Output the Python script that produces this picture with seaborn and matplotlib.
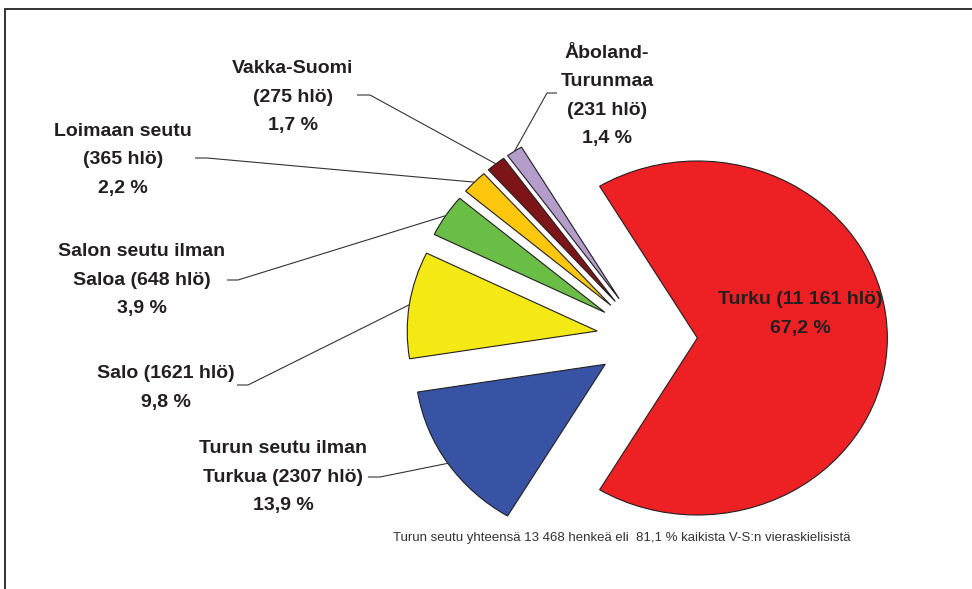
import numpy as np
import matplotlib
matplotlib.use("Agg")
import matplotlib.pyplot as plt
from matplotlib.lines import Line2D
import seaborn as sns

# ---- data ----
regions = ["Turku", "Åboland-Turunmaa", "Vakka-Suomi", "Loimaan seutu",
           "Salon seutu ilman Saloa", "Salo", "Turun seutu ilman Turkua"]
label_heads = ["Turku", "Åboland-\nTurunmaa\n", "Vakka-Suomi\n", "Loimaan seutu\n",
               "Salon seutu ilman\nSaloa ", "Salo ", "Turun seutu ilman\nTurkua "]
counts = [11161, 231, 275, 365, 648, 1621, 2307]
colors = ["#ED2024", "#B59DCB", "#7D1518", "#FDC70E", "#6ABD45", "#F4E815", "#3853A4"]
footnote = "Turun seutu yhteensä 13 468 henkeä eli  81,1 % kaikista V-S:n vieraskielisistä"

sns.set_theme(style="white")
plt.rcParams["font.family"] = ["Liberation Sans", "DejaVu Sans"]

W, H = 972, 589
fig = plt.figure(figsize=(W / 100, H / 100), dpi=100)
fig.patch.set_facecolor("white")
ax = fig.add_axes([0, 0, 1, 1])

# layout (pixels)
CX, CY, RX, RY = 647, 338, 190, 177
EXPL = 0.265

def px(x, y):
    return (x - CX) / RX, (CY - y) / RY

total = sum(counts)
shares = [c / total for c in counts]
start = -shares[0] * 360 / 2

wedges, _ = ax.pie(counts, colors=colors, startangle=start, counterclock=True,
                   explode=[EXPL] * len(counts), radius=1, center=(0, 0),
                   wedgeprops=dict(edgecolor="#231f20", linewidth=0.8))
ax.set_aspect("auto")
ax.set_xlim(-CX / RX, (W - CX) / RX)
ax.set_ylim(-(H - CY) / RY, CY / RY)
ax.axis("off")

def fmt_count(c):
    return f"{c:,}".replace(",", " ") if c >= 10000 else str(c)

labels = []
for head, c, s in zip(label_heads, counts, shares):
    pct = f"{s * 100:.1f}".replace(".", ",")
    if head == "Turku":
        labels.append(f"Turku ({fmt_count(c)} hlö)\n{pct} %")
    else:
        labels.append(f"{head}({fmt_count(c)} hlö)\n{pct} %")

# text center, leader start, leader elbow (pixels)
layout = [
    ((800, 314), None, None),
    ((607, 96), (557, 93), (547, 93)),
    ((293, 97), (357, 95), (370, 95)),
    ((123, 160), (195, 158), (207, 158)),
    ((142, 280), (227, 280), (238, 280)),
    ((166, 388), (237, 385), (248, 385)),
    ((283, 477), (368, 477), (380, 477)),
]

TXT = "#231f20"
for w, lab, (tc, ls, le) in zip(wedges, labels, layout):
    x, y = px(*tc)
    ax.text(x, y, lab, ha="center", va="center", fontsize=14, fontweight="bold",
            color=TXT, linespacing=1.85)
    if ls is not None:
        th = np.deg2rad((w.theta1 + w.theta2) / 2)
        cx, cy = w.center
        ax_, ay_ = cx + w.r * np.cos(th), cy + w.r * np.sin(th)
        p1, p2 = px(*ls), px(*le)
        ax.plot([p1[0], p2[0], ax_], [p1[1], p2[1], ay_], color="#333333", lw=0.8,
                solid_capstyle="butt")

fx, fy = px(393, 538)
ax.text(fx, fy, footnote, ha="left", va="center", fontsize=9.5, color="#333333")

# frame
fig.add_artist(Line2D([5 / W, 1.01], [1 - 9 / H, 1 - 9 / H], transform=fig.transFigure,
                      color="#333333", lw=1.4))
fig.add_artist(Line2D([5 / W, 5 / W], [1 - 9 / H, -0.01], transform=fig.transFigure,
                      color="#333333", lw=1.4))

fig.savefig("out.png", dpi=100, facecolor="white")
